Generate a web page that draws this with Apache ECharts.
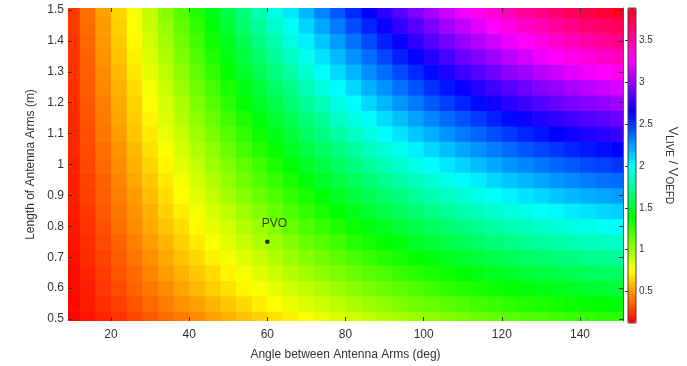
<!DOCTYPE html>
<html>
<head>
<meta charset="utf-8">
<title>V_LIVE / V_OEFD</title>
<script src="https://cdn.jsdelivr.net/npm/echarts@6.0.0/dist/echarts.min.js"></script>
<style>
  html, body { margin: 0; padding: 0; background: #fff; }
  #chart { width: 687px; height: 366px; }
</style>
</head>
<body>
<div id="chart"></div>
<script>
// angle between the arms (deg), one per column
const angles = [10, 14, 18, 22, 26, 30, 34, 38, 42, 46, 50, 54, 58, 62, 66, 70, 74, 78,
  82, 86, 90, 94, 98, 102, 106, 110, 114, 118, 122, 126, 130, 134, 138, 142, 146, 150];
// arm length (m), one per row
const lengths = [0.5, 0.55, 0.6, 0.65, 0.7, 0.75, 0.8, 0.85, 0.9, 0.95, 1.0,
  1.05, 1.1, 1.15, 1.2, 1.25, 1.3, 1.35, 1.4, 1.45, 1.5];
// V_LIVE / V_OEFD, ratio[row][column]
const ratio = [
  [0.13,0.17,0.21,0.25,0.30,0.34,0.39,0.43,0.47,0.52,0.56,0.60,0.64,0.68,0.72,0.76,0.80,0.84,0.87,0.91,0.94,0.97,1.00,1.03,1.06,1.09,1.12,1.14,1.16,1.18,1.20,1.22,1.24,1.25,1.27,1.28],
  [0.14,0.19,0.24,0.28,0.33,0.38,0.43,0.48,0.52,0.57,0.62,0.66,0.71,0.75,0.80,0.84,0.88,0.92,0.96,1.00,1.03,1.07,1.10,1.13,1.16,1.19,1.22,1.24,1.27,1.29,1.31,1.33,1.35,1.37,1.38,1.40],
  [0.15,0.20,0.26,0.31,0.37,0.42,0.47,0.53,0.58,0.63,0.68,0.73,0.77,0.82,0.87,0.91,0.95,1.00,1.04,1.08,1.12,1.15,1.19,1.22,1.26,1.29,1.32,1.35,1.37,1.40,1.42,1.44,1.46,1.48,1.50,1.51],
  [0.15,0.21,0.27,0.33,0.39,0.45,0.51,0.56,0.62,0.67,0.73,0.78,0.83,0.88,0.93,0.98,1.03,1.07,1.12,1.16,1.20,1.24,1.28,1.32,1.35,1.39,1.42,1.45,1.48,1.51,1.53,1.56,1.58,1.60,1.62,1.63],
  [0.16,0.23,0.29,0.35,0.42,0.48,0.54,0.60,0.66,0.72,0.78,0.83,0.89,0.94,1.00,1.05,1.10,1.15,1.20,1.24,1.29,1.33,1.37,1.41,1.45,1.49,1.52,1.56,1.59,1.62,1.65,1.67,1.69,1.72,1.73,1.75],
  [0.17,0.24,0.31,0.37,0.44,0.51,0.57,0.64,0.70,0.76,0.82,0.89,0.95,1.00,1.06,1.12,1.17,1.22,1.28,1.33,1.37,1.42,1.47,1.51,1.55,1.59,1.63,1.66,1.70,1.73,1.76,1.79,1.81,1.83,1.85,1.87],
  [0.18,0.25,0.32,0.40,0.47,0.54,0.61,0.67,0.74,0.81,0.87,0.94,1.00,1.06,1.13,1.19,1.24,1.30,1.36,1.41,1.46,1.51,1.56,1.61,1.65,1.69,1.73,1.77,1.81,1.84,1.87,1.90,1.93,1.95,1.98,2.00],
  [0.19,0.26,0.34,0.42,0.49,0.56,0.64,0.71,0.78,0.85,0.92,0.99,1.06,1.13,1.19,1.26,1.32,1.38,1.44,1.49,1.55,1.60,1.65,1.70,1.75,1.80,1.84,1.88,1.92,1.95,1.99,2.02,2.05,2.07,2.10,2.12],
  [0.20,0.28,0.36,0.44,0.51,0.59,0.67,0.75,0.82,0.90,0.97,1.05,1.12,1.19,1.26,1.32,1.39,1.46,1.52,1.58,1.64,1.69,1.75,1.80,1.85,1.90,1.95,1.99,2.03,2.07,2.10,2.14,2.17,2.20,2.22,2.24],
  [0.20,0.29,0.37,0.45,0.54,0.62,0.70,0.78,0.86,0.94,1.02,1.10,1.18,1.25,1.32,1.40,1.47,1.53,1.60,1.66,1.73,1.79,1.84,1.90,1.95,2.01,2.05,2.10,2.14,2.18,2.22,2.26,2.29,2.32,2.35,2.37],
  [0.21,0.30,0.39,0.47,0.56,0.65,0.73,0.82,0.90,0.99,1.07,1.15,1.23,1.31,1.39,1.47,1.54,1.61,1.68,1.75,1.82,1.88,1.94,2.00,2.06,2.11,2.16,2.21,2.26,2.30,2.34,2.38,2.41,2.45,2.47,2.50],
  [0.22,0.31,0.40,0.49,0.58,0.68,0.77,0.86,0.95,1.03,1.12,1.21,1.29,1.37,1.46,1.54,1.61,1.69,1.76,1.84,1.91,1.97,2.04,2.10,2.16,2.22,2.27,2.32,2.37,2.42,2.46,2.50,2.54,2.57,2.60,2.63],
  [0.23,0.32,0.42,0.51,0.61,0.70,0.80,0.89,0.99,1.08,1.17,1.26,1.35,1.44,1.52,1.61,1.69,1.77,1.85,1.92,2.00,2.07,2.14,2.20,2.27,2.33,2.38,2.44,2.49,2.54,2.58,2.63,2.66,2.70,2.73,2.76],
  [0.23,0.33,0.43,0.53,0.63,0.73,0.83,0.93,1.03,1.12,1.22,1.31,1.41,1.50,1.59,1.68,1.76,1.85,1.93,2.01,2.09,2.16,2.23,2.30,2.37,2.43,2.49,2.55,2.61,2.66,2.71,2.75,2.79,2.83,2.86,2.89],
  [0.24,0.34,0.44,0.55,0.65,0.76,0.86,0.96,1.07,1.17,1.27,1.37,1.47,1.56,1.66,1.75,1.84,1.93,2.01,2.10,2.18,2.26,2.33,2.41,2.48,2.54,2.61,2.67,2.73,2.78,2.83,2.88,2.92,2.96,2.99,3.02],
  [0.25,0.35,0.46,0.57,0.67,0.78,0.89,1.00,1.11,1.21,1.32,1.42,1.52,1.62,1.72,1.82,1.92,2.01,2.10,2.19,2.27,2.35,2.43,2.51,2.58,2.65,2.72,2.78,2.84,2.90,2.95,3.00,3.05,3.09,3.13,3.16],
  [0.25,0.36,0.47,0.58,0.70,0.81,0.92,1.03,1.15,1.26,1.37,1.47,1.58,1.69,1.79,1.89,1.99,2.09,2.18,2.28,2.36,2.45,2.53,2.61,2.69,2.77,2.84,2.90,2.97,3.02,3.08,3.13,3.18,3.22,3.26,3.30],
  [0.26,0.37,0.49,0.60,0.72,0.84,0.95,1.07,1.19,1.30,1.42,1.53,1.64,1.75,1.86,1.96,2.07,2.17,2.27,2.36,2.46,2.55,2.64,2.72,2.80,2.88,2.95,3.02,3.09,3.15,3.21,3.26,3.31,3.35,3.40,3.43],
  [0.26,0.38,0.50,0.62,0.74,0.86,0.98,1.10,1.22,1.34,1.46,1.58,1.70,1.81,1.93,2.04,2.14,2.25,2.35,2.45,2.55,2.65,2.74,2.83,2.91,2.99,3.07,3.14,3.21,3.27,3.33,3.39,3.44,3.49,3.53,3.57],
  [0.27,0.39,0.51,0.63,0.76,0.89,1.01,1.14,1.26,1.39,1.51,1.64,1.76,1.88,1.99,2.11,2.22,2.33,2.44,2.54,2.65,2.75,2.84,2.93,3.02,3.10,3.18,3.26,3.33,3.40,3.46,3.52,3.58,3.63,3.67,3.71],
  [0.27,0.40,0.52,0.65,0.78,0.91,1.04,1.17,1.30,1.43,1.56,1.69,1.81,1.94,2.06,2.18,2.30,2.41,2.53,2.64,2.74,2.84,2.94,3.04,3.13,3.22,3.30,3.38,3.46,3.53,3.59,3.65,3.71,3.76,3.81,3.85]
];
const xTicks = [20, 40, 60, 80, 100, 120, 140];
const yTicks = [0.5, 0.6, 0.7, 0.8, 0.9, 1, 1.1, 1.2, 1.3, 1.4, 1.5];
const barTicks = [0.5, 1, 1.5, 2, 2.5, 3, 3.5];
const pvo = [60, 0.75];

const cellW = 4;
const cellH = 0.05;
const hsv = ['#ff0000', '#ffff00', '#00ff00', '#00ffff', '#0000ff', '#ff00ff', '#ff0018'];
const ink = '#333';

const cells = [];
lengths.forEach((len, j) => {
  angles.forEach((ang, k) => cells.push([ang, len, ratio[j][k]]));
});

function renderCell(params, api) {
  const x = api.value(0);
  const y = api.value(1);
  const p0 = api.coord([x - cellW / 2, y + cellH / 2]);
  const p1 = api.coord([x + cellW / 2, y - cellH / 2]);
  const cs = params.coordSys;
  const shape = echarts.graphic.clipRectByRect(
    { x: p0[0], y: p0[1], width: p1[0] - p0[0] + 0.6, height: p1[1] - p0[1] + 0.6 },
    { x: cs.x, y: cs.y, width: cs.width, height: cs.height }
  );
  return shape && { type: 'rect', shape: shape, style: { fill: api.visual('color') } };
}

const chart = echarts.init(document.getElementById('chart'));

const tickStyle = { show: true, inside: true, length: 4, lineStyle: { color: ink, width: 1 } };

chart.setOption({
  animation: false,
  backgroundColor: '#fff',
  textStyle: { fontFamily: 'Liberation Sans, Arial, sans-serif' },
  grid: [
    { left: 68, top: 8, width: 555, height: 315 },
    { left: 628, top: 8, width: 8, height: 315, show: true, borderColor: '#444', borderWidth: 1, z: 10 }
  ],
  xAxis: [
    {
      gridIndex: 0, type: 'value', min: 9, max: 151,
      axisLine: { show: false },
      axisTick: Object.assign({ customValues: xTicks }, tickStyle),
      axisLabel: { customValues: xTicks, color: ink, fontSize: 12, margin: 8 },
      splitLine: { show: false },
      name: 'Angle between Antenna Arms (deg)', nameLocation: 'middle', nameGap: 28,
      nameTextStyle: { color: ink, fontSize: 12 }, z: 10
    },
    {
      gridIndex: 0, type: 'value', min: 9, max: 151, position: 'top',
      axisLine: { show: false },
      axisTick: Object.assign({ customValues: xTicks }, tickStyle),
      axisLabel: { show: false }, splitLine: { show: false }, z: 10
    },
    { gridIndex: 1, type: 'value', show: false }
  ],
  yAxis: [
    {
      gridIndex: 0, type: 'value', min: 0.4935, max: 1.5065,
      axisLine: { show: false },
      axisTick: Object.assign({ customValues: yTicks }, tickStyle),
      axisLabel: { customValues: yTicks, color: ink, fontSize: 12, margin: 4 },
      splitLine: { show: false },
      name: 'Length of Antenna Arms (m)', nameLocation: 'middle', nameGap: 31, nameRotate: 90,
      nameTextStyle: { color: ink, fontSize: 12 }, z: 10
    },
    {
      gridIndex: 0, type: 'value', min: 0.4935, max: 1.5065, position: 'right',
      axisLine: { show: true, lineStyle: { color: '#555', width: 1 } },
      axisTick: Object.assign({ customValues: yTicks }, tickStyle),
      axisLabel: { show: false }, splitLine: { show: false }, z: 10
    },
    {
      gridIndex: 1, type: 'value', min: 0.127, max: 3.88, position: 'right',
      axisLine: { show: false },
      axisTick: { show: true, inside: true, length: 3, customValues: barTicks, lineStyle: { color: ink } },
      axisLabel: { customValues: barTicks, color: ink, fontSize: 10, margin: 3 },
      splitLine: { show: false },
      name: '{m|V}{s|LIVE}{m| / V}{s|OEFD}', nameLocation: 'middle', nameGap: 28, nameRotate: -90,
      nameTextStyle: {
        color: ink,
        rich: {
          m: { fontSize: 13, color: ink, verticalAlign: 'top', lineHeight: 15 },
          s: { fontSize: 10, color: ink, verticalAlign: 'bottom', lineHeight: 10, padding: [8, 0, 0, 0] }
        }
      },
      z: 10
    }
  ],
  visualMap: {
    type: 'continuous', min: 0.127, max: 3.88, dimension: 2, seriesIndex: 0,
    calculable: false, left: 628, top: 8, itemWidth: 8, itemHeight: 315, padding: 0,
    inRange: { color: hsv }
  },
  series: [
    {
      type: 'custom', xAxisIndex: 0, yAxisIndex: 0,
      renderItem: renderCell, encode: { x: 0, y: 1 },
      data: cells, silent: true, z: 1
    },
    {
      type: 'scatter', xAxisIndex: 0, yAxisIndex: 0,
      data: [pvo], symbolSize: 4.5, itemStyle: { color: '#000' }, silent: true, z: 5,
      label: {
        show: true, formatter: 'PVO', position: 'top', distance: 10, offset: [7, 0],
        color: '#111', fontSize: 12
      }
    }
  ]
});
</script>
</body>
</html>
